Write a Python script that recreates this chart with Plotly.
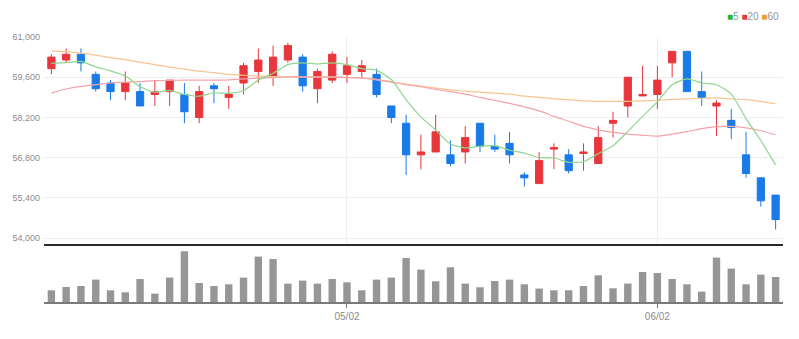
import plotly.graph_objects as go

# Trading days (KRX, 2023)
dates = [
    "2023-04-03", "2023-04-04", "2023-04-05", "2023-04-06", "2023-04-07",
    "2023-04-10", "2023-04-11", "2023-04-12", "2023-04-13", "2023-04-14",
    "2023-04-17", "2023-04-18", "2023-04-19", "2023-04-20", "2023-04-21",
    "2023-04-24", "2023-04-25", "2023-04-26", "2023-04-27", "2023-04-28",
    "2023-05-02", "2023-05-03", "2023-05-04", "2023-05-08", "2023-05-09",
    "2023-05-10", "2023-05-11", "2023-05-12", "2023-05-15", "2023-05-16",
    "2023-05-17", "2023-05-18", "2023-05-19", "2023-05-22", "2023-05-23",
    "2023-05-24", "2023-05-25", "2023-05-26", "2023-05-30", "2023-05-31",
    "2023-06-01", "2023-06-02", "2023-06-05", "2023-06-07", "2023-06-08",
    "2023-06-09", "2023-06-12", "2023-06-13", "2023-06-14", "2023-06-15",
]

open_ = [59900, 60200, 60400, 59700, 59400, 59100, 59100, 59000, 59100, 59000,
         58200, 59300, 58900, 59400, 59800, 59600, 60200, 60300, 59200, 59500,
         59700, 59800, 59700, 58600, 58000, 56900, 57000, 56900, 57000, 58000,
         57200, 57300, 56200, 55900, 57100, 56900, 56950, 56600, 58000, 58600,
         58950, 59000, 60100, 60500, 59100, 58600, 58100, 56900, 56100, 55500]
high = [60400, 60600, 60600, 59800, 59500, 59800, 59400, 59500, 59500, 59400,
        59300, 59400, 59300, 60100, 60600, 60700, 60800, 60400, 59900, 60500,
        60300, 60200, 59900, 58600, 58300, 57600, 58300, 57400, 57900, 58000,
        57600, 57700, 56300, 57000, 57300, 57100, 57300, 57900, 58400, 59600,
        60000, 60000, 60500, 60500, 59800, 58800, 58500, 57700, 56100, 55500]
low = [59700, 60100, 59800, 59100, 58800, 58800, 58600, 58600, 58600, 58000,
       58000, 58700, 58500, 59000, 59400, 59300, 60100, 59100, 58700, 59400,
       59400, 59600, 58900, 58000, 56200, 56400, 57000, 56500, 56600, 57000,
       57000, 56600, 55800, 55900, 56400, 56250, 56350, 56600, 57500, 58200,
       58950, 58500, 59600, 59100, 58600, 57550, 57450, 56100, 55100, 54300]
close = [60300, 60400, 60100, 59200, 59100, 59400, 58600, 59100, 59500, 58400,
         59100, 59200, 59000, 60000, 60200, 60300, 60700, 59300, 59800, 60400,
         60000, 60000, 59000, 58200, 56900, 57000, 57700, 56600, 57500, 57200,
         57100, 56900, 56100, 56700, 57150, 56350, 57000, 57500, 58100, 59600,
         59000, 59500, 60500, 59100, 58900, 58700, 57850, 56250, 55300, 54650]

# Moving averages (5 / 20 / 60 days)
ma5 = [60080, 60110, 60150, 59960, 59820, 59640, 59280, 59080, 59140, 59000,
       58940, 59060, 59040, 59140, 59500, 59740, 60040, 60100, 60060, 60100,
       60040, 59900, 59840, 59520, 58820, 58220, 57760, 57280, 57140, 57200,
       57220, 57060, 56960, 56800, 56790, 56640, 56660, 56940, 57220, 57710,
       58240, 58740, 59340, 59540, 59400, 59340, 59010, 58160, 57400, 56550]
ma20 = [59050, 59190, 59280, 59340, 59400, 59430, 59450, 59480, 59490, 59500,
        59500, 59500, 59510, 59540, 59570, 59590, 59610, 59610, 59600, 59600,
        59590, 59570, 59510, 59430, 59340, 59270, 59180, 59100, 59010, 58900,
        58800, 58690, 58570, 58430, 58240, 58070, 57890, 57770, 57680, 57620,
        57580, 57550, 57620, 57710, 57810, 57880, 57890, 57840, 57740, 57600]
ma60 = [60520, 60490, 60440, 60370, 60280, 60210, 60120, 60040, 59950, 59880,
        59810, 59760, 59700, 59670, 59640, 59620, 59610, 59610, 59610, 59610,
        59600, 59580, 59530, 59440, 59360, 59290, 59220, 59160, 59120, 59080,
        59050, 59010, 58940, 58900, 58850, 58820, 58780, 58760, 58760, 58760,
        58780, 58800, 58830, 58850, 58870, 58880, 58850, 58820, 58760, 58680]

# Volume (thousand shares)
volume = [5850, 7500, 8000, 11200, 5850, 4850, 11500, 4200, 12200, 25350,
          9500, 8000, 8850, 12200, 22700, 21500, 9200, 10700, 9200, 11500,
          9850, 5850, 11200, 12200, 22000, 16200, 10350, 17350, 9200, 7350,
          10500, 11200, 8850, 6700, 5850, 5850, 8000, 13350, 6850, 9200,
          15000, 14500, 11500, 8850, 5200, 22200, 16700, 8850, 13700, 12500]

price_ticks = [54000, 55400, 56800, 58200, 59600, 61000]
date_ticks = ["2023-05-02", "2023-06-02"]
date_labels = ["05/02", "06/02"]

UP = "#e8363c"
DOWN = "#1a7ae8"
FONT = "Liberation Sans Narrow, Arial Narrow, Liberation Sans, sans-serif"

fig = go.Figure()

fig.add_trace(go.Candlestick(
    x=dates, open=open_, high=high, low=low, close=close,
    increasing=dict(line=dict(color=UP, width=1), fillcolor=UP),
    decreasing=dict(line=dict(color=DOWN, width=1), fillcolor=DOWN),
    whiskerwidth=0, xaxis="x", yaxis="y", showlegend=False, hoverinfo="skip",
))

for vals, col in [(ma60, "#f7c58f"), (ma20, "#f5a3ab"), (ma5, "#8fd68c")]:
    fig.add_trace(go.Scatter(
        x=dates, y=vals, mode="lines",
        line=dict(color=col, width=1.2, shape="spline", smoothing=0.6),
        xaxis="x", yaxis="y", showlegend=False, hoverinfo="skip",
    ))

fig.add_trace(go.Bar(
    x=dates, y=volume, marker=dict(color="#969696", line=dict(width=0)),
    width=0.5, xaxis="x2", yaxis="y2", showlegend=False, hoverinfo="skip",
))

fig.update_layout(
    width=799, height=339,
    margin=dict(l=40, r=16, t=37, b=37),
    paper_bgcolor="white", plot_bgcolor="white",
    font=dict(family=FONT, size=9, color="#8c8c8c"),
    xaxis=dict(
        type="category", range=[-0.5, 49.5], domain=[0, 1], anchor="y",
        rangeslider=dict(visible=False),
        showticklabels=False, ticks="",
        tickmode="array", tickvals=date_ticks,
        showgrid=True, gridcolor="#eeeeee", gridwidth=1,
        showline=True, linecolor="#2a2a2a", linewidth=2,
        zeroline=False, fixedrange=True,
    ),
    yaxis=dict(
        domain=[0.219, 1], range=[53800, 61000],
        tickmode="array", tickvals=price_ticks, tickformat=",d",
        showgrid=True, gridcolor="#eeeeee", gridwidth=1,
        zeroline=False, showline=False, ticks="", ticklabelstandoff=3,
    ),
    xaxis2=dict(
        type="category", range=[-0.5, 49.5], domain=[0, 1], anchor="y2",
        matches="x",
        tickmode="array", tickvals=date_ticks, ticktext=date_labels,
        ticks="outside", ticklen=4, tickcolor="#777777", tickwidth=1,
        showgrid=False, showline=True, linecolor="#7a7a7a", linewidth=2,
        zeroline=False, tickfont=dict(size=10, color="#8c8c8c"),
    ),
    yaxis2=dict(
        domain=[0, 0.2], range=[0, 26500],
        showticklabels=False, showgrid=False, zeroline=False, ticks="",
    ),
    annotations=[dict(
        xref="paper", yref="paper", x=1.0, y=1.0, yshift=21, xshift=-2,
        xanchor="right", yanchor="middle", showarrow=False,
        text=("<span style='color:#27b827'>■</span>5 "
              "<span style='color:#e8363c'>■</span>20 "
              "<span style='color:#f39a2e'>■</span>60"),
        font=dict(family=FONT, size=10, color="#999999"),
    )],
)

fig.write_html("out.html")
